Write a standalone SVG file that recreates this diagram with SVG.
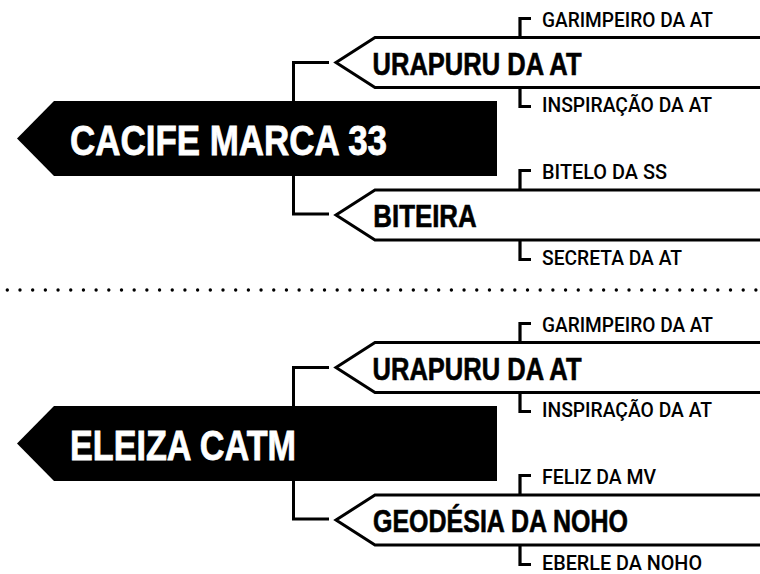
<svg xmlns="http://www.w3.org/2000/svg" width="760" height="574" viewBox="0 0 760 574">
<defs>
<style>
.main{fill:#000}
.mt{font-family:"Liberation Sans",Arial,sans-serif;font-weight:bold;font-size:43px;fill:#fff;stroke:#fff;stroke-width:0.8}
.hex{fill:#fff;stroke:#000;stroke-width:3;stroke-linejoin:miter}
.ct{font-family:"Liberation Sans",Arial,sans-serif;font-weight:bold;font-size:31px;fill:#000;stroke:#000;stroke-width:0.6}
.gt{font-family:Roboto,"Liberation Sans",Arial,sans-serif;font-weight:500;font-size:20px;fill:#000}
.br{fill:none;stroke:#000;stroke-width:3.2;stroke-linejoin:miter}
.conn{fill:none;stroke:#000;stroke-width:3;stroke-linejoin:miter}
.dots{fill:none;stroke:#000;stroke-width:3.4;stroke-linecap:round;stroke-dasharray:0 12.688}
</style>
</defs>
<rect width="760" height="574" fill="#fff"/>
<line class="dots" x1="7.3" y1="290" x2="760" y2="290"/>

<g id="section1">
  <g id="connectors1">
    <path class="conn" d="M329,62.5 H293.5 V102"/>
    <path class="conn" d="M293.5,175 V214 H329"/>
  </g>
  <g id="main1">
    <polygon class="main" points="17,138.5 54,101 497,101 497,176 54,176"/>
    <text class="mt" x="70" y="155" textLength="317" lengthAdjust="spacingAndGlyphs">CACIFE MARCA 33</text>
  </g>
  <g id="child1a">
    <path class="hex" d="M762,37.5 H375 L336,62.5 L375,87.5 H762"/>
    <text class="ct" x="372.5" y="75" textLength="209" lengthAdjust="spacingAndGlyphs">URAPURU DA AT</text>
  </g>
  <g id="gc1a1">
    <path class="br" d="M520,37 V18.5 H531"/>
    <text class="gt" x="542" y="27.3" textLength="171" lengthAdjust="spacingAndGlyphs">GARIMPEIRO DA AT</text>
  </g>
  <g id="gc1a2">
    <path class="br" d="M520,88 V106.5 H531"/>
    <text class="gt" x="542" y="112.3" textLength="170" lengthAdjust="spacingAndGlyphs">INSPIRAÇÃO DA AT</text>
  </g>
  <g id="child1b">
    <path class="hex" d="M762,190 H375 L336,215 L375,240 H762"/>
    <text class="ct" x="373.3" y="226.7" textLength="103.4" lengthAdjust="spacingAndGlyphs">BITEIRA</text>
  </g>
  <g id="gc1b1">
    <path class="br" d="M520,189.5 V170.5 H531"/>
    <text class="gt" x="542" y="179" textLength="125" lengthAdjust="spacingAndGlyphs">BITELO DA SS</text>
  </g>
  <g id="gc1b2">
    <path class="br" d="M520,240.5 V259.5 H531"/>
    <text class="gt" x="542" y="265" textLength="140" lengthAdjust="spacingAndGlyphs">SECRETA DA AT</text>
  </g>
</g>

<g id="section2" transform="translate(0,305)">
  <g id="connectors2">
    <path class="conn" d="M329,62.5 H293.5 V102"/>
    <path class="conn" d="M293.5,175 V214 H329"/>
  </g>
  <g id="main2">
    <polygon class="main" points="17,138.5 54,101 497,101 497,176 54,176"/>
    <text class="mt" x="70" y="155" textLength="226" lengthAdjust="spacingAndGlyphs">ELEIZA CATM</text>
  </g>
  <g id="child2a">
    <path class="hex" d="M762,37.5 H375 L336,62.5 L375,87.5 H762"/>
    <text class="ct" x="372.5" y="75" textLength="209" lengthAdjust="spacingAndGlyphs">URAPURU DA AT</text>
  </g>
  <g id="gc2a1">
    <path class="br" d="M520,37 V18.5 H531"/>
    <text class="gt" x="542" y="27.3" textLength="171" lengthAdjust="spacingAndGlyphs">GARIMPEIRO DA AT</text>
  </g>
  <g id="gc2a2">
    <path class="br" d="M520,88 V106.5 H531"/>
    <text class="gt" x="542" y="112.3" textLength="170" lengthAdjust="spacingAndGlyphs">INSPIRAÇÃO DA AT</text>
  </g>
  <g id="child2b">
    <path class="hex" d="M762,190 H375 L336,215 L375,240 H762"/>
    <text class="ct" x="373" y="226.7" textLength="255" lengthAdjust="spacingAndGlyphs">GEODÉSIA DA NOHO</text>
  </g>
  <g id="gc2b1">
    <path class="br" d="M520,189.5 V170.5 H531"/>
    <text class="gt" x="542" y="179" textLength="114" lengthAdjust="spacingAndGlyphs">FELIZ DA MV</text>
  </g>
  <g id="gc2b2">
    <path class="br" d="M520,240.5 V259.5 H531"/>
    <text class="gt" x="542" y="265" textLength="160" lengthAdjust="spacingAndGlyphs">EBERLE DA NOHO</text>
  </g>
</g>
</svg>
